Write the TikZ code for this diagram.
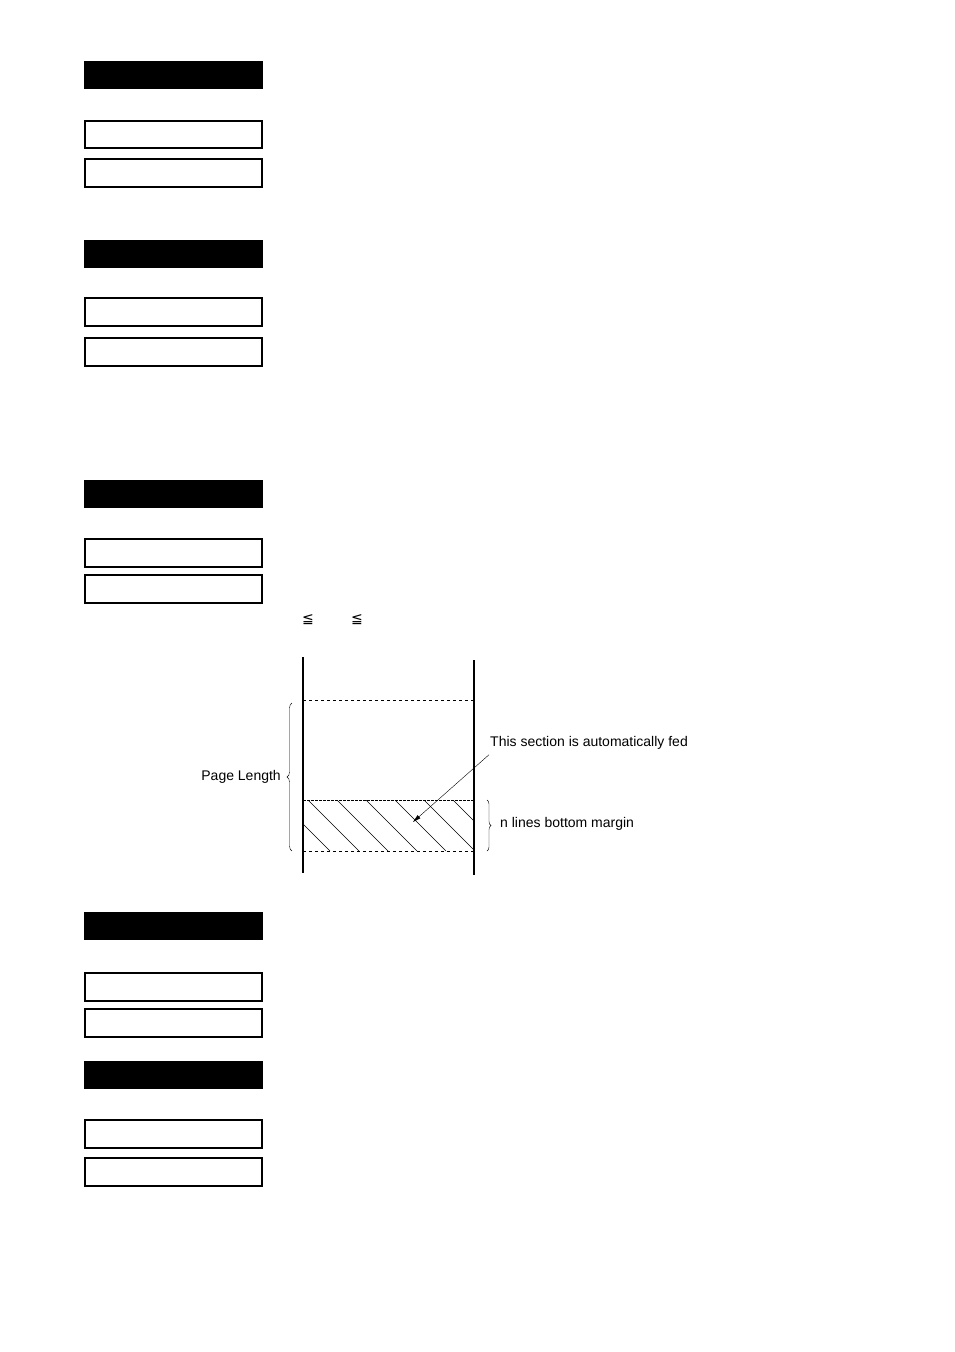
\documentclass[tikz,border=0pt]{standalone}
\usepackage{fontspec}
\setmainfont{Liberation Sans}
\newfontfamily\symfont{DejaVu Sans}
\usetikzlibrary{decorations.pathreplacing,arrows.meta}
\tikzset{
  head/.style={fill=black,draw=black,line width=1.5pt},
  field/.style={draw=black,line width=1.5pt,fill=white},
  edge/.style={line width=1.5pt},
  lbl/.style={font=\fontsize{14}{16}\selectfont,inner sep=1pt},
}
\begin{document}
\begin{tikzpicture}[x=1pt,y=-1pt]
  \useasboundingbox (0,0) rectangle (954,1352);
  % title bars and fields
  \foreach \y in {62,241,481,913,1062}
    \draw[head] (85,\y) rectangle (262,\y+26);
  \foreach \y/\h in {121/27,159/28,298/28,338/28,539/28,575/28,973/28,1009/28,1120/28,1158/28}
    \draw[field] (85,\y) rectangle (262,\y+\h);
  \node[lbl,font=\symfont\fontsize{14}{16}\selectfont] (le1) at (308,620) {≦};
  \node[lbl,font=\symfont\fontsize{14}{16}\selectfont] (le2) at (357,620) {≦};
  % paper
  \fill[white] (303,800) rectangle (474,851);
  \begin{scope}
    \clip (303,800) rectangle (474,851);
    \foreach \x in {250,279,...,480}
      \draw[thin] (\x,800) -- (\x+51,851);
  \end{scope}
  \draw[dashed,thin] (303,700) -- (474,700);
  \draw[thin,dash pattern=on 3pt off 1pt] (303,800) -- (474,800);
  \draw[dashed,thin] (303,851) -- (474,851);
  \draw[edge] (303,657) -- (303,873);
  \draw[edge] (474,660) -- (474,875);
  \draw[decorate,decoration={brace,amplitude=5pt}] (292,851) -- (292,703);
  \draw[decorate,decoration={brace,amplitude=4pt}] (487,800) -- (487,851);
  \node[lbl,anchor=east] (plen) at (282,777) {Page Length};
  \node[lbl,anchor=west] (marg) at (499,824) {n lines bottom margin};
  \node[lbl,anchor=west] (feed) at (489,743) {This section is automatically fed};
  \coordinate (tip) at (413,822);
  \draw[thin,-{Triangle[length=8pt,width=4pt]}] (feed.south west) ++(0,4) -- (tip);
\end{tikzpicture}
\end{document}
